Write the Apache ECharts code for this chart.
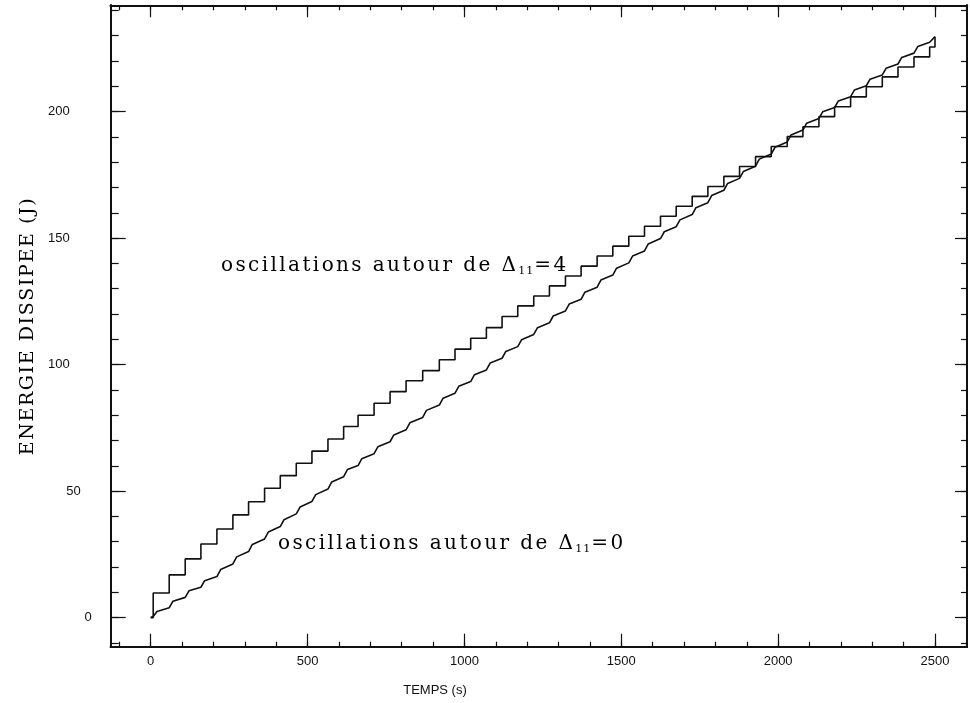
<!DOCTYPE html>
<html>
<head>
<meta charset="utf-8">
<script src="https://cdn.jsdelivr.net/npm/echarts@6/dist/echarts.min.js"></script>
<style>
  html, body { margin: 0; padding: 0; background: #fff; }
  #chart { width: 970px; height: 703px; }
</style>
</head>
<body>
<div id="chart"></div>
<script>
// Axis ranges
const xRange = [-127.5, 2602];
const yRange = [-11.5, 242];

// Tick values (labelled majors, unlabelled minors)
const xMajorTicks = [0, 500, 1000, 1500, 2000, 2500];
const xMinorTicks = [-100, 0, 100, 200, 300, 400, 500, 600, 700, 800, 900, 1000, 1100, 1200, 1300, 1400, 1500, 1600, 1700, 1800, 1900, 2000, 2100, 2200, 2300, 2400, 2500, 2600];
const yMajorTicks = [0, 50, 100, 150, 200];
const yMinorTicks = [-10, 0, 10, 20, 30, 40, 50, 60, 70, 80, 90, 100, 110, 120, 130, 140, 150, 160, 170, 180, 190, 200, 210, 220, 230, 240];

// Dissipated energy, oscillations around Δ11 = 4 (staircase: time of each jump, level reached)
const upperTimes = [0, 8, 59, 110, 160, 211, 262, 312, 363, 413, 464, 514, 565, 615, 661, 712, 763, 814, 867, 920, 970, 1020, 1070, 1120, 1170, 1221, 1271, 1322, 1372, 1423, 1473, 1524, 1574, 1625, 1675, 1726, 1776, 1827, 1877, 1928, 1978, 2029, 2079, 2130, 2180, 2231, 2281, 2332, 2382, 2433, 2483, 2500];
const upperLevels = [0, 9.7, 16.9, 23.2, 29.1, 35.0, 40.6, 45.8, 51.1, 56.1, 61.0, 65.8, 70.6, 75.5, 80.0, 84.7, 89.3, 93.6, 97.6, 101.9, 106.1, 110.4, 114.6, 119.0, 123.2, 127.1, 131.1, 135.0, 138.9, 142.9, 146.8, 150.7, 154.7, 158.6, 162.6, 166.5, 170.4, 174.4, 178.3, 182.2, 186.2, 190.1, 194.0, 198.0, 201.9, 205.8, 209.8, 213.7, 217.6, 221.6, 225.5, 229.6];

// Dissipated energy, oscillations around Δ11 = 0
const lowerTimes = [0, 8, 20, 59, 71, 110, 122, 160, 172, 211, 223, 262, 274, 312, 324, 363, 375, 413, 425, 464, 476, 514, 526, 565, 577, 615, 627, 661, 673, 712, 724, 763, 775, 814, 826, 867, 879, 920, 932, 970, 982, 1020, 1032, 1070, 1082, 1120, 1132, 1170, 1182, 1221, 1233, 1271, 1283, 1322, 1334, 1372, 1384, 1423, 1435, 1473, 1485, 1524, 1536, 1574, 1586, 1625, 1637, 1675, 1687, 1726, 1738, 1776, 1788, 1827, 1839, 1877, 1889, 1928, 1940, 1978, 1990, 2029, 2041, 2079, 2091, 2130, 2142, 2180, 2192, 2231, 2243, 2281, 2293, 2332, 2344, 2382, 2394, 2433, 2445, 2483, 2500];
const lowerValues = [0, 0.4, 2.4, 3.9, 6.5, 8.0, 10.6, 12.0, 14.6, 16.2, 19.0, 21.2, 24.0, 26.1, 28.9, 31.1, 33.8, 36.0, 38.7, 41.0, 43.7, 45.9, 48.6, 50.8, 53.6, 55.7, 58.5, 60.1, 62.8, 64.8, 67.5, 69.5, 72.2, 74.2, 77.0, 79.1, 81.9, 84.0, 86.7, 88.7, 91.4, 93.3, 96.0, 97.9, 100.6, 102.5, 105.2, 107.1, 109.8, 111.9, 114.6, 116.5, 119.2, 121.2, 123.9, 125.8, 128.6, 130.6, 133.4, 135.4, 138.1, 140.2, 142.9, 144.9, 147.7, 149.8, 152.5, 154.5, 157.2, 159.3, 162.0, 164.0, 166.8, 168.9, 171.6, 173.6, 176.3, 178.4, 181.2, 183.2, 185.9, 188.0, 190.7, 192.7, 195.4, 197.3, 199.9, 201.6, 204.2, 205.9, 208.5, 210.2, 212.8, 214.5, 217.1, 218.8, 221.4, 223.1, 225.7, 227.4, 229.6];

// Texts
const xTitle = 'TEMPS (s)';
const yTitle = 'ENERGIE DISSIPEE (J)';
const upperNote = { text: 'oscillations autour de Δ', sub: '11', tail: '=4' };
const lowerNote = { text: 'oscillations autour de Δ', sub: '11', tail: '=0' };

const zip = (xs, ys) => xs.map((x, i) => [x, ys[i]]);

const INK = '#111';
const sans = 'Liberation Sans';
const serif = 'DejaVu Serif';

// right padding of each y tick label (the labels are not flush in the original layout)
const yLabelShift = { 0: 0, 50: 11, 100: 22, 150: 22, 200: 22 };

function frameAxis(kind, pos, ticks, tickLen, labelOpt) {
  const isX = kind === 'x';
  const range = isX ? xRange : yRange;
  return {
    type: 'value', position: pos, min: range[0], max: range[1],
    axisLine: { show: true, onZero: false, lineStyle: { color: INK, width: 2 } },
    axisTick: { show: true, inside: true, length: tickLen, customValues: ticks,
                lineStyle: { color: INK, width: 1.2 } },
    axisLabel: labelOpt ? Object.assign({ show: true, customValues: ticks }, labelOpt) : { show: false },
    splitLine: { show: false }
  };
}

const xLabelOpt = { color: INK, fontFamily: sans, fontSize: 13, margin: 8, formatter: v => String(v) };
const yLabelOpt = {
  color: INK, margin: 19,
  formatter: v => '{v' + (yLabelShift[v] || 0) + '|' + v + '}',
  rich: {
    v0:  { fontFamily: sans, fontSize: 13, color: INK, padding: [0, 0, 0, 0] },
    v11: { fontFamily: sans, fontSize: 13, color: INK, padding: [0, 11, 0, 0] },
    v22: { fontFamily: sans, fontSize: 13, color: INK, padding: [0, 22, 0, 0] }
  }
};

// letter-spaced rich text: every character becomes its own token
function spaced(str, style) {
  return str.split('').map(c => '{' + style + '|' + c + '}').join('');
}
function note(n) {
  return spaced(n.text, 't') + spaced(n.sub, 's') + spaced(n.tail, 't');
}
const noteRich = {
  t: { fontFamily: serif, fontSize: 20, color: INK, padding: [0, 2.4, 0, 0] },
  s: { fontFamily: serif, fontSize: 11, color: INK, padding: [10, 1, 0, 0] }
};
const titleRich = {
  c: { fontFamily: serif, fontSize: 19, color: INK, padding: [0, 1.6, 0, 0] }
};

const chart = echarts.init(document.getElementById('chart'), null, { renderer: 'canvas' });

chart.setOption({
  animation: false,
  backgroundColor: '#fff',
  grid: { left: 110.7, right: 3, top: 5.3, bottom: 56.3, containLabel: false },
  xAxis: [
    frameAxis('x', 'bottom', xMajorTicks, 13, xLabelOpt),
    frameAxis('x', 'bottom', xMinorTicks, 5, null),
    frameAxis('x', 'top', xMajorTicks, 12, null),
    frameAxis('x', 'top', xMinorTicks, 5, null)
  ],
  yAxis: [
    frameAxis('y', 'left', yMajorTicks, 15, yLabelOpt),
    frameAxis('y', 'left', yMinorTicks, 8, null),
    frameAxis('y', 'right', yMajorTicks, 12, null),
    frameAxis('y', 'right', yMinorTicks, 6, null)
  ],
  series: [
    {
      type: 'line', name: 'Δ11=4', step: 'end', showSymbol: false,
      xAxisIndex: 0, yAxisIndex: 0,
      data: zip(upperTimes, upperLevels),
      lineStyle: { color: INK, width: 1.6 }
    },
    {
      type: 'line', name: 'Δ11=0', showSymbol: false,
      xAxisIndex: 0, yAxisIndex: 0,
      data: zip(lowerTimes, lowerValues),
      lineStyle: { color: INK, width: 1.6 }
    }
  ],
  graphic: [
    { type: 'text', left: 221, top: 256, style: { text: note(upperNote), rich: noteRich } },
    { type: 'text', left: 278, top: 534, style: { text: note(lowerNote), rich: noteRich } },
    { type: 'text', x: 28, y: 326, rotation: Math.PI / 2,
      style: { text: spaced(yTitle, 'c'), rich: titleRich, align: 'center', verticalAlign: 'middle' } },
    { type: 'text', x: 435, y: 690,
      style: { text: xTitle, fontFamily: sans, fontSize: 13, fill: INK, align: 'center', verticalAlign: 'middle' } }
  ]
});
</script>
</body>
</html>
